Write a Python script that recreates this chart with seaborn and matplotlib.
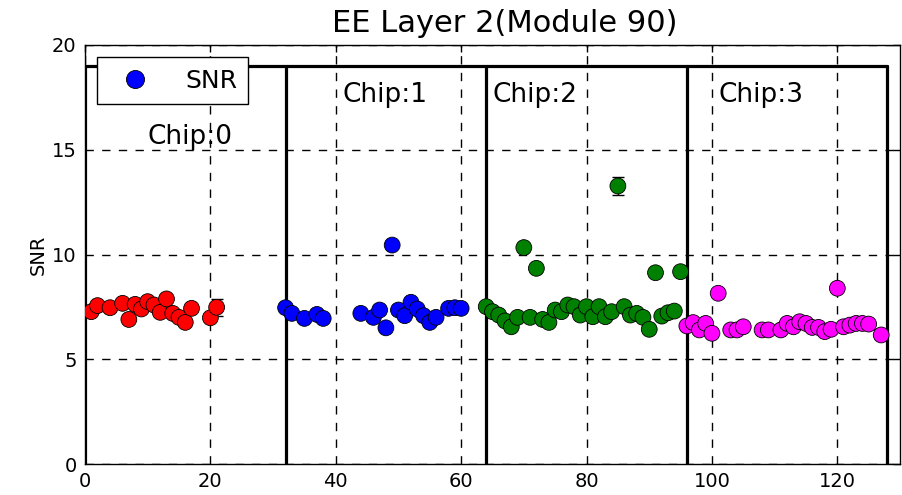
import matplotlib
matplotlib.use("Agg")
import matplotlib.pyplot as plt
from matplotlib.lines import Line2D
import seaborn as sns
import pandas as pd

# Per-chip channel numbers and measured signal-to-noise ratios
chip0_channels = [1, 2, 4, 6, 7, 8, 9, 10, 11, 12, 13, 14, 15, 16, 17, 20, 21]
chip0_snr = [7.27, 7.56, 7.46, 7.67, 6.90, 7.62, 7.40, 7.75, 7.59, 7.24, 7.88,
             7.19, 7.00, 6.76, 7.43, 6.98, 7.48]

chip1_channels = [32, 33, 35, 37, 38, 44, 46, 47, 48, 49, 50, 51, 52, 53, 54,
                  55, 56, 58, 59, 60]
chip1_snr = [7.46, 7.19, 6.95, 7.14, 6.95, 7.19, 7.00, 7.35, 6.50, 10.45, 7.35,
             7.08, 7.72, 7.40, 7.08, 6.76, 7.00, 7.43, 7.46, 7.43]

chip2_channels = [64, 65, 66, 67, 68, 69, 70, 71, 72, 73, 74, 75, 76, 77, 78, 79,
                  80, 81, 82, 83, 84, 85, 86, 87, 88, 89, 90, 91, 92, 93, 94, 95]
chip2_snr = [7.51, 7.27, 7.11, 6.83, 6.55, 7.00, 10.33, 7.00, 9.34, 6.90, 6.76,
             7.35, 7.27, 7.59, 7.51, 7.11, 7.51, 7.03, 7.51, 7.03, 7.27, 13.27,
             7.51, 7.11, 7.19, 7.00, 6.43, 9.13, 7.06, 7.22, 7.30, 9.18]

chip3_channels = [96, 97, 98, 99, 100, 101, 103, 104, 105, 108, 109, 111, 112,
                  113, 114, 115, 116, 117, 118, 119, 120, 121, 122, 123, 124,
                  125, 127]
chip3_snr = [6.59, 6.75, 6.40, 6.71, 6.24, 8.15, 6.40, 6.40, 6.55, 6.40, 6.40,
             6.40, 6.71, 6.55, 6.79, 6.71, 6.52, 6.52, 6.32, 6.43, 8.39, 6.55,
             6.63, 6.71, 6.71, 6.68, 6.16]

# Channels whose uncertainty is large enough to show outside the marker
errbar_channels = [21, 85]
errbar_sizes = [0.42, 0.45]

chip_names = ["Chip:0", "Chip:1", "Chip:2", "Chip:3"]
chip_label_x = [10, 41, 65, 101]
chip_label_y = [15, 17, 17, 17]
chip_edges = [0, 32, 64, 96, 128]
chip_colors = ["#ff0000", "#0000ff", "#008000", "#ff00ff"]

frames = []
for i, (ch, snr) in enumerate([(chip0_channels, chip0_snr),
                               (chip1_channels, chip1_snr),
                               (chip2_channels, chip2_snr),
                               (chip3_channels, chip3_snr)]):
    frames.append(pd.DataFrame({"channel": ch, "snr": snr, "chip": chip_names[i]}))
df = pd.concat(frames, ignore_index=True)

sns.set_style("white", rc={"text.color": "black", "axes.labelcolor": "black",
                           "xtick.color": "black", "ytick.color": "black"})
plt.rcParams["font.family"] = ["DejaVu Sans"]

fig = plt.figure(figsize=(9.03, 4.95), dpi=100)
ax = fig.add_axes([0.0941, 0.0626, 0.9026, 0.8465])

# Chip boundaries: a frame of thick lines around each 32-channel block
for e in chip_edges:
    ax.plot([e, e], [0, 19], color="black", lw=2.3, zorder=3)
ax.plot([chip_edges[0], chip_edges[-1]], [19, 19], color="black", lw=2.3, zorder=3)

err_df = df[df["channel"].isin(errbar_channels)].copy()
err_df["err"] = err_df["channel"].map(dict(zip(errbar_channels, errbar_sizes)))
ax.errorbar(err_df["channel"], err_df["snr"], yerr=err_df["err"], fmt="none",
            ecolor="black", elinewidth=1.0, capsize=4, capthick=1.0, zorder=4)

sns.scatterplot(data=df, x="channel", y="snr", hue="chip",
                palette=dict(zip(chip_names, chip_colors)),
                s=130, edgecolor="black", linewidth=0.6, ax=ax,
                legend=False, zorder=5)

for name, tx, ty in zip(chip_names, chip_label_x, chip_label_y):
    ax.text(tx, ty, name, fontsize=19, color="black", va="bottom", zorder=6)

ax.set_xlim(0, 130)
ax.set_ylim(0, 20)
ax.set_xticks([0, 20, 40, 60, 80, 100, 120])
ax.set_yticks([0, 5, 10, 15, 20])
ax.tick_params(axis="both", which="both", direction="in", length=5,
               top=True, right=True, labelsize=14, width=1, pad=6,
               colors="black")
ax.grid(True, color="black", linestyle=(0, (6, 6)), linewidth=1.0)
ax.set_axisbelow(False)
for sp in ax.spines.values():
    sp.set_color("black")
    sp.set_linewidth(1.0)

ax.set_xlabel("")
ax.set_ylabel("SNR", fontsize=14, color="black", labelpad=3)
ax.set_title("EE Layer 2(Module 90)", fontsize=22, pad=9, x=0.515, color="black")

handle = Line2D([], [], linestyle="none", marker="o", markersize=13,
                markerfacecolor="#0000ff", markeredgecolor="black",
                markeredgewidth=0.6)
leg = ax.legend([handle], ["SNR"], loc="upper left", fontsize=18,
                frameon=True, fancybox=False, framealpha=1, edgecolor="black",
                borderaxespad=0.5, handletextpad=0.95, borderpad=0.45,
                handlelength=2.1)
leg.get_frame().set_linewidth(1.0)
for t in leg.get_texts():
    t.set_color("black")
leg.set_zorder(10)

fig.savefig("out.png", dpi=100)
